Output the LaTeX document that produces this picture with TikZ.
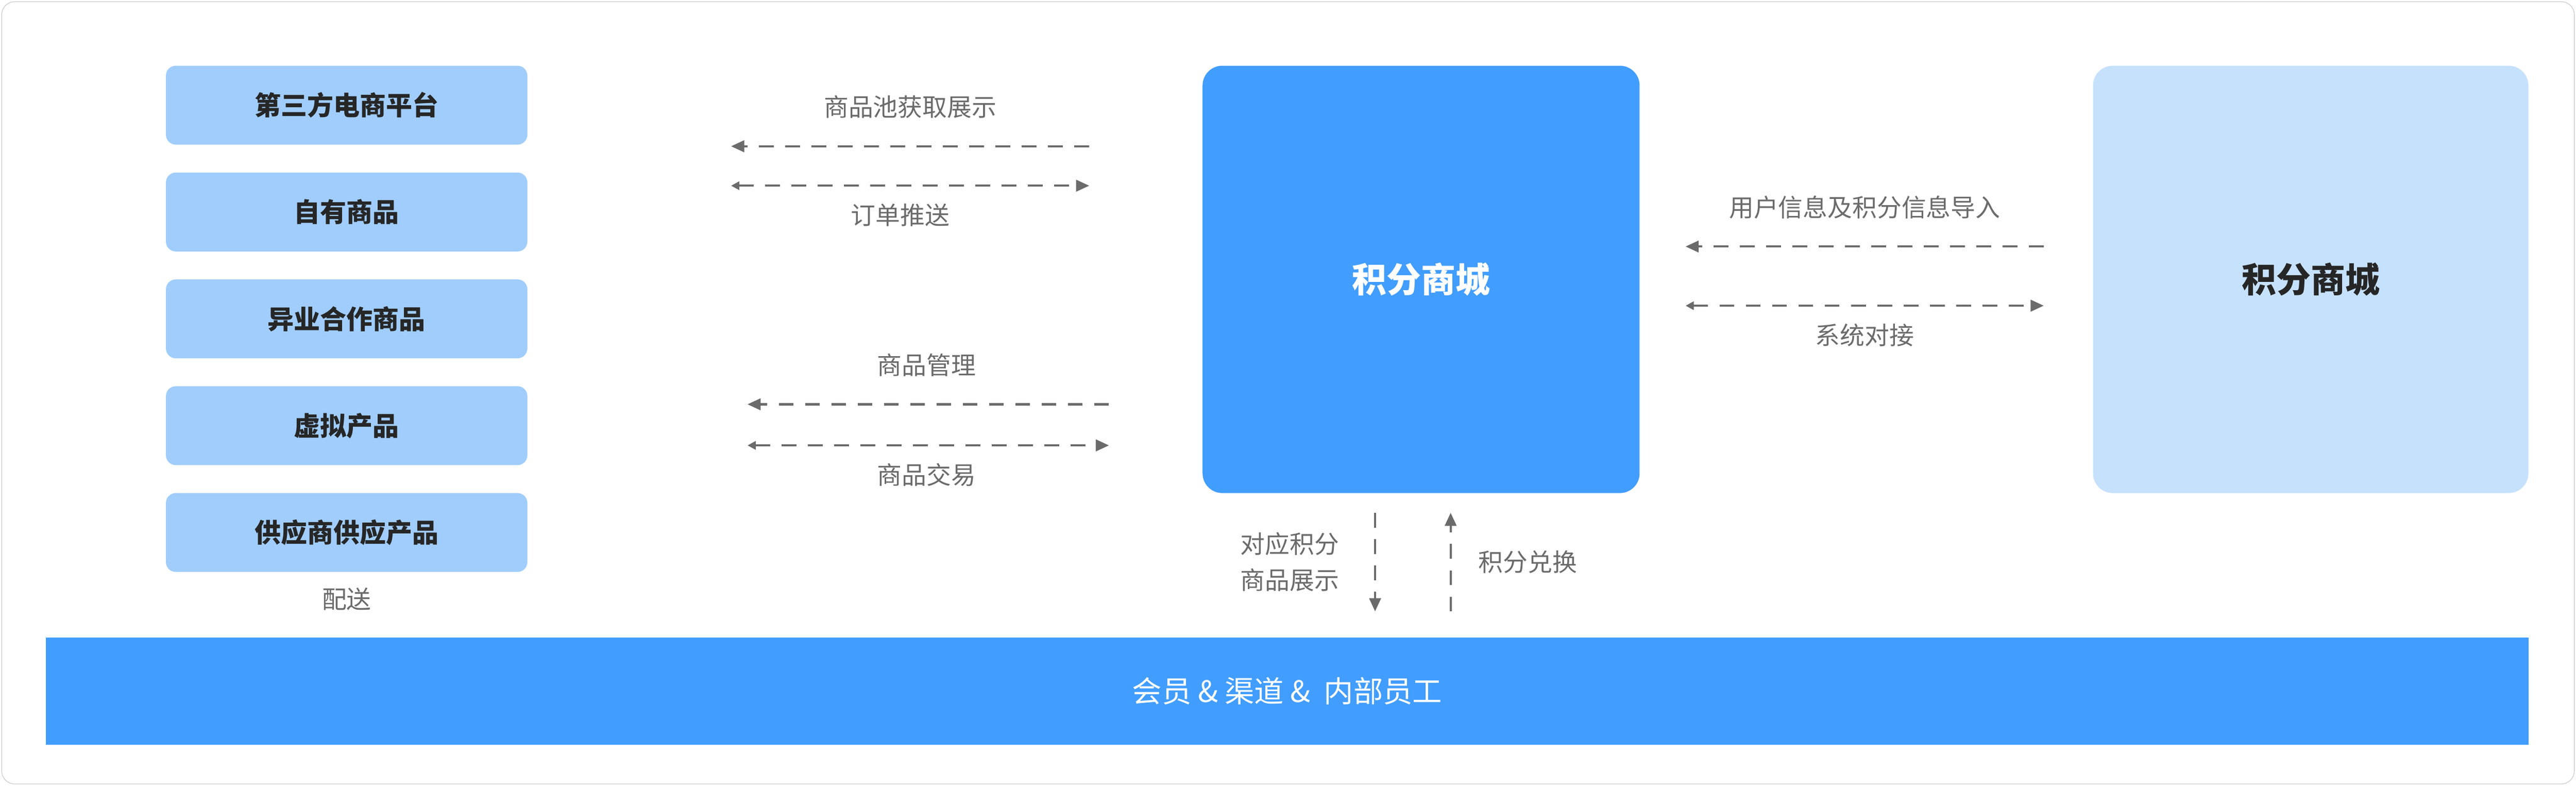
\documentclass[tikz,border=0pt]{standalone}
\usepackage{fontspec}
\setmainfont{Noto Sans CJK SC}
\usetikzlibrary{positioning,arrows.meta}
\definecolor{midblue}{HTML}{419DFF}
\definecolor{paleblue}{HTML}{A0CDFC}
\definecolor{lightblue}{HTML}{C6E1FC}
\definecolor{linegray}{HTML}{6B6B6B}
\definecolor{textdark}{HTML}{262626}
\tikzset{
  srcbox/.style={fill=paleblue, rounded corners=6pt, minimum width=220pt, minimum height=48pt,
    font=\fontsize{16pt}{18pt}\selectfont\bfseries, text=textdark},
  flowlbl/.style={font=\fontsize{15pt}{22pt}\selectfont, text=linegray, align=right},
  flowline/.style={draw=linegray, line width=1.3pt, dash pattern=on 9pt off 7pt},
  onehead/.style={flowline, -{Triangle[length=8pt,width=7pt]}},
  twohead/.style={flowline, {Triangle[length=5pt,width=5pt]}-{Triangle[length=8pt,width=7pt]}},
}
\begin{document}
\begin{tikzpicture}[x=1pt,y=-1pt]
		\useasboundingbox (0,0) rectangle (1568,478);
		\draw[gray!40, rounded corners=8pt, fill=white] (1,1) rectangle (1567,477);
		% sources
		\node[srcbox] (s1) at (211,64){第三方电商平台};
		\node[srcbox] (s2) at (211,129){自有商品};
		\node[srcbox] (s3) at (211,194){异业合作商品};
		\node[srcbox] (s4) at (211,259){虚拟产品};
		\node[srcbox] (s5) at (211,324){供应商供应产品};
		\node[flowlbl, below=6pt of s5] (ps){配送};
		% main boxes
		\node[fill=midblue, rounded corners=12pt, minimum width=266pt, minimum height=260pt,
                text=white, font=\fontsize{21pt}{24pt}\selectfont\bfseries] (mall) at (865,170){积分商城};
		\node[fill=lightblue, rounded corners=12pt, minimum width=265pt, minimum height=260pt,
                text=textdark, font=\fontsize{21pt}{24pt}\selectfont\bfseries] (ext) at (1406.5,170){积分商城};
		\node[fill=midblue, minimum width=1511pt, minimum height=65pt, text=white,
                font=\fontsize{18pt}{20pt}\selectfont] (bar) at (783.5,420.5){会员 \& 渠道 \&\ \ 内部员工};
		% arrows
		\coordinate (a1r) at (663,89);  \coordinate (a1l) at (445,89);
		\coordinate (a2l) at (445,113); \coordinate (a2r) at (663,113);
		\coordinate (b1r) at (675,246); \coordinate (b1l) at (455,246);
		\coordinate (b2l) at (455,271); \coordinate (b2r) at (675,271);
		\coordinate (c1r) at (1244,150); \coordinate (c1l) at (1026,150);
		\coordinate (c2l) at (1026,186); \coordinate (c2r) at (1244,186);
		\coordinate (d1t) at (837,312); \coordinate (d1b) at (837,372);
		\coordinate (d2b) at (883,372); \coordinate (d2t) at (883,312);
		\draw[onehead] (a1r) -- (a1l);
		\draw[twohead] (a2l) -- (a2r);
		\draw[onehead] (b1r) -- (b1l);
		\draw[twohead] (b2l) -- (b2r);
		\draw[onehead] (c1r) -- (c1l);
		\draw[twohead] (c2l) -- (c2r);
		\draw[onehead] (d1t) -- (d1b);
		\draw[onehead] (d2b) -- (d2t);
		\node[flowlbl] (la1) at (554,65){商品池获取展示};
		\node[flowlbl] (la2) at (548,131){订单推送};
		\node[flowlbl] (lb1) at (564,222){商品管理};
		\node[flowlbl] (lb2) at (564,289){商品交易};
		\node[flowlbl] (lc1) at (1135,126){用户信息及积分信息导入};
		\node[flowlbl] (lc2) at (1135,204){系统对接};
		\node[flowlbl] (ld1) at (785,342){对应积分\\商品展示};
		\node[flowlbl] (ld2) at (930,342){积分兑换};
	\end{tikzpicture}
\end{document}
